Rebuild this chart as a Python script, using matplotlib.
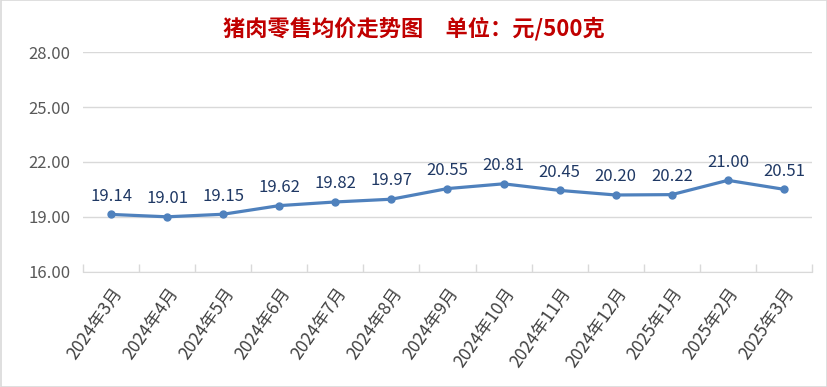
import matplotlib
matplotlib.use('Agg')
import matplotlib.pyplot as plt
from matplotlib.patches import Rectangle

plt.rcParams['font.family'] = ['Noto Sans CJK SC', 'DejaVu Sans']

months = ['2024年3月', '2024年4月', '2024年5月', '2024年6月', '2024年7月', '2024年8月',
          '2024年9月', '2024年10月', '2024年11月', '2024年12月', '2025年1月', '2025年2月',
          '2025年3月']
prices = [19.14, 19.01, 19.15, 19.62, 19.82, 19.97, 20.55, 20.81, 20.45, 20.20, 20.22, 21.00, 20.51]
yticks = [16, 19, 22, 25, 28]

fig = plt.figure(figsize=(8.28, 3.87), dpi=100)
ax = fig.add_axes([0.1002, 0.2972, 0.8805, 0.5684])

x = list(range(len(months)))
ax.plot(x, prices, color='#4F81BD', lw=2.3, marker='o', ms=5, zorder=3)
for xi, v in zip(x, prices):
    ax.annotate(f'{v:.2f}', (xi, v), xytext=(0, 7), textcoords='offset points',
                ha='center', va='bottom', fontsize=12, color='#1F3864')

ax.set_xlim(-0.5, len(months) - 0.5)
ax.set_ylim(16, 28)
ax.set_yticks(yticks)
ax.set_yticklabels([f'{t:.2f}' for t in yticks], fontsize=12, color='#595959')
ax.tick_params(axis='y', length=0, pad=9)
ax.grid(axis='y', color='#D9D9D9', lw=1)
ax.set_axisbelow(True)

ax.set_xticks(x)
ax.set_xticklabels(months, rotation=55, ha='right', rotation_mode='anchor',
                   fontsize=12.5, color='#404040')
ax.tick_params(axis='x', length=0, pad=9)
ax.set_xticks([i - 0.5 for i in range(len(months) + 1)], minor=True)
ax.tick_params(axis='x', which='minor', direction='in', length=6, color='#D9D9D9', width=1)

for s in ['top', 'right', 'left']:
    ax.spines[s].set_visible(False)
ax.spines['bottom'].set_color('#D9D9D9')

fig.text(0.5, 0.925, '猪肉零售均价走势图　单位：元/500克', ha='center', va='center',
         fontsize=16, fontweight='bold', color='#C00000')

fig.patches.append(Rectangle((0.001, 0.001), 0.998, 0.998, transform=fig.transFigure,
                             fill=False, edgecolor='#D9D9D9', lw=1.2))

fig.savefig('out.png', dpi=100)
